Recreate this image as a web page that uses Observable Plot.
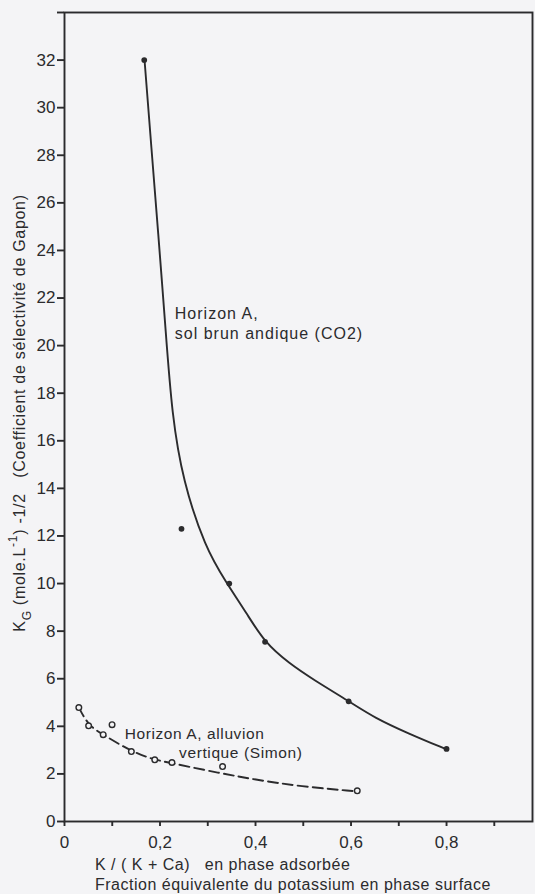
<!DOCTYPE html>
<html><head><meta charset="utf-8">
<script src="https://cdn.jsdelivr.net/npm/d3@7"></script>
<script src="https://cdn.jsdelivr.net/npm/@observablehq/plot@0.6"></script>
<style>
html,body{margin:0;padding:0;background:#f4f4f6;}
#chart svg{display:block;}
</style></head><body><div id="chart"></div>
<script>
// Horizon A, sol brun andique (CO2) — measured points (filled dots)
const andicX = [0.167, 0.245, 0.345, 0.42, 0.595, 0.80];
const andicY = [32.0, 12.3, 10.0, 7.55, 5.05, 3.05];
// fitted curve
const andicCurveX = [0.168, 0.182, 0.196, 0.212, 0.225, 0.248, 0.295, 0.337, 0.383, 0.419, 0.47, 0.522, 0.596, 0.65, 0.72, 0.80];
const andicCurveY = [31.9, 28.3, 24.8, 20.6, 17.1, 14.3, 11.5, 10.1, 8.7, 7.53, 6.65, 5.95, 5.05, 4.35, 3.7, 3.03];

// Horizon A, alluvion vertique (Simon) — measured points (open circles)
const vertX = [0.030, 0.0505, 0.081, 0.0996, 0.140, 0.189, 0.225, 0.331, 0.613];
const vertY = [4.79, 4.02, 3.65, 4.07, 2.94, 2.59, 2.48, 2.31, 1.29];
// fitted dashed curve
const vertCurveX = [0.030, 0.0505, 0.081, 0.14, 0.189, 0.225, 0.326, 0.396, 0.495, 0.61];
const vertCurveY = [4.79, 4.02, 3.65, 2.94, 2.59, 2.45, 2.03, 1.77, 1.47, 1.27];

// axes
const xTicks = [0, 0.1, 0.2, 0.3, 0.4, 0.5, 0.6, 0.7, 0.8, 0.9];
const xTickLabels = ["0", "", "0,2", "", "0,4", "", "0,6", "", "0,8", ""];
const yTicks = [0, 2, 4, 6, 8, 10, 12, 14, 16, 18, 20, 22, 24, 26, 28, 30, 32, 34];
const yTickLabels = ["0", "2", "4", "6", "8", "10", "12", "14", "16", "18", "20", "22", "24", "26", "28", "30", "32", ""];

// annotations (data coordinates)
const annoTopText = ["Horizon A,", "sol brun andique (CO2)"];
const annoTopX = [0.231, 0.231];
const annoTopY = [21.35, 20.5];
const annoLowText = ["Horizon A, alluvion", "vertique (Simon)"];
const annoLowX = [0.126, 0.240];
const annoLowY = [3.66, 2.86];

const xLabelLines = ["K / ( K + Ca)   en phase adsorbée", "Fraction équivalente du potassium en phase surface"];
const yLabelParts = ["K", "G", " (mole.L", "-1", ") -1/2   (Coefficient de sélectivité de Gapon)"];

const ink = "#2b2b2d";
const bg = "#f4f4f6";
const font = "'Liberation Sans', Arial, sans-serif";

const andicPts = andicX.map((x, i) => ({x, y: andicY[i]}));
const andicCurve = andicCurveX.map((x, i) => ({x, y: andicCurveY[i]}));
const vertPts = vertX.map((x, i) => ({x, y: vertY[i]}));
const vertCurve = vertCurveX.map((x, i) => ({x, y: vertCurveY[i]}));
const annoTop = annoTopText.map((t, i) => ({t, x: annoTopX[i], y: annoTopY[i]}));
const annoLow = annoLowText.map((t, i) => ({t, x: annoLowX[i], y: annoLowY[i]}));

const plot = Plot.plot({
  width: 535,
  height: 894,
  marginLeft: 64,
  marginRight: 3,
  marginTop: 12,
  marginBottom: 73,
  style: {fontFamily: font, fontSize: "16px", color: ink, background: "transparent", overflow: "visible"},
  x: {domain: [0, 0.98]},
  y: {domain: [0, 34]},
  marks: [
    Plot.frame({stroke: ink, strokeWidth: 1.9}),
    Plot.axisX({ticks: xTicks, tickFormat: d => xTickLabels[xTicks.indexOf(d)], tickSize: 5, tickPadding: 9, label: null, strokeWidth: 1.9, fontSize: 17}),
    Plot.axisY({ticks: yTicks, tickFormat: d => yTickLabels[yTicks.indexOf(d)], tickSize: 7, tickPadding: 2, label: null, strokeWidth: 1.9, fontSize: 17}),
    Plot.line(andicCurve, {x: "x", y: "y", curve: "basis", stroke: ink, strokeWidth: 1.9}),
    Plot.line(vertCurve, {x: "x", y: "y", curve: "basis", stroke: ink, strokeWidth: 1.9, strokeDasharray: "10,5"}),
    Plot.dot(andicPts, {x: "x", y: "y", r: 2.9, fill: ink}),
    Plot.dot(vertPts, {x: "x", y: "y", r: 2.8, fill: bg, stroke: ink, strokeWidth: 1.4}),
    Plot.text(annoTop, {x: "x", y: "y", text: "t", textAnchor: "start", fontSize: 16, fill: ink, ariaLabel: "anno-top"}),
    Plot.text(annoLow, {x: "x", y: "y", text: "t", textAnchor: "start", fontSize: 15.5, fill: ink, ariaLabel: "anno-low"})
  ]
});

const svg = d3.select(plot);
// wide lettering of the original annotations
const textGroups = svg.selectAll('g[aria-label="text"], g[aria-label="anno-top"], g[aria-label="anno-low"]').nodes();
if (textGroups.length >= 2) {
  d3.select(textGroups[0]).attr("letter-spacing", 1.0);
  d3.select(textGroups[1]).attr("letter-spacing", 0.6);
}

const yl = svg.append("text")
  .attr("transform", "translate(21,413) rotate(-90)")
  .attr("text-anchor", "middle")
  .attr("dominant-baseline", "middle")
  .attr("fill", ink)
  .attr("font-size", 16)
  .attr("letter-spacing", 0.7);
yl.append("tspan").text(yLabelParts[0]);
yl.append("tspan").attr("baseline-shift", "sub").attr("font-size", 12).text(yLabelParts[1]);
yl.append("tspan").text(yLabelParts[2]);
yl.append("tspan").attr("baseline-shift", "super").attr("font-size", 12).text(yLabelParts[3]);
yl.append("tspan").text(yLabelParts[4]);

xLabelLines.forEach((t, i) => {
  svg.append("text")
    .attr("x", 95)
    .attr("y", 870 + i * 20)
    .attr("text-anchor", "start")
    .attr("fill", ink)
    .attr("font-size", 16)
    .attr("letter-spacing", 0.5)
    .text(t);
});

document.getElementById("chart").appendChild(plot);
</script>
</body></html>
